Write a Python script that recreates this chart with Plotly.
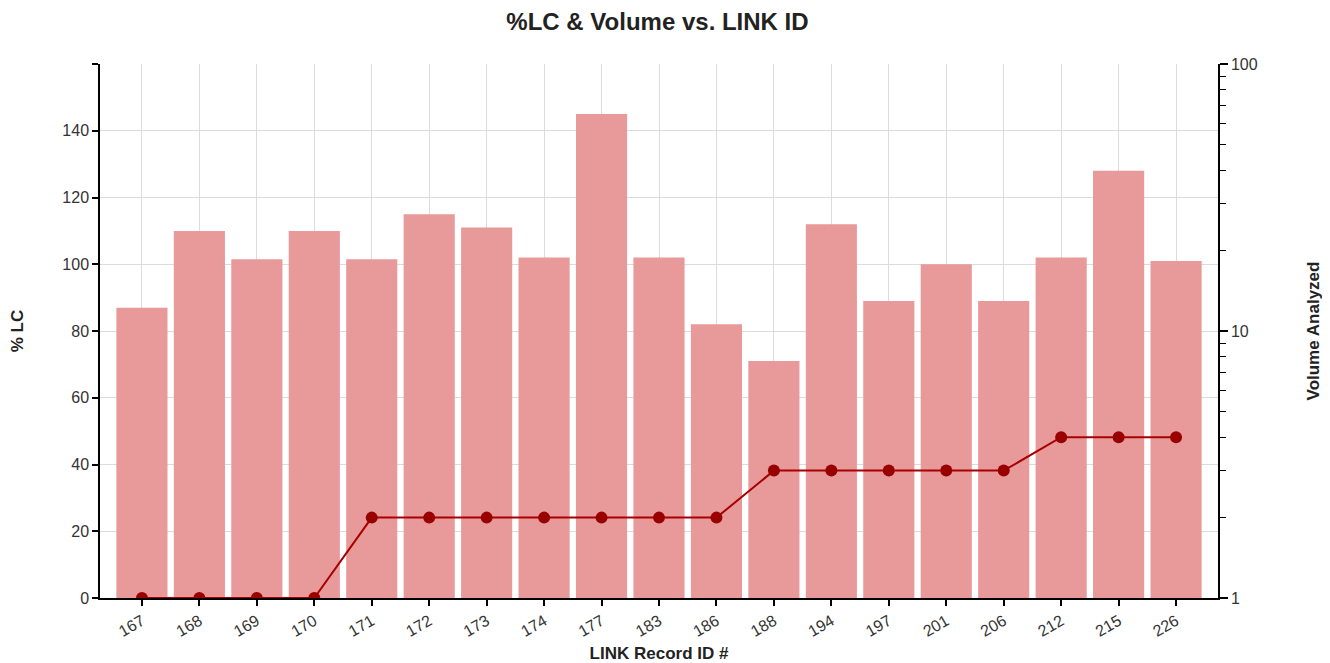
import plotly.graph_objects as go

categories = ["167", "168", "169", "170", "171", "172", "173", "174", "177", "183",
              "186", "188", "194", "197", "201", "206", "212", "215", "226"]
pct_lc = [87, 110, 101.5, 110, 101.5, 115, 111, 102, 145, 102,
          82, 71, 112, 89, 100, 89, 102, 128, 101]
volume = [1, 1, 1, 1, 2, 2, 2, 2, 2, 2, 2, 3, 3, 3, 3, 3, 4, 4, 4]

left_ticks = [0, 20, 40, 60, 80, 100, 120, 140, 160]
left_ticktext = ["0", "20", "40", "60", "80", "100", "120", "140", ""]
right_major = [1, 10, 100]
right_minor = [2, 3, 4, 5, 6, 7, 8, 9, 20, 30, 40, 50, 60, 70, 80, 90]

FONT = "Liberation Sans, Arial, sans-serif"
W, H = 1322, 655

fig = go.Figure()
fig.add_trace(go.Bar(
    x=categories, y=pct_lc, name="%LC",
    marker=dict(color="#E8999A", line=dict(width=0)),
    yaxis="y",
))
fig.add_trace(go.Scatter(
    x=categories, y=volume, name="Volume", mode="lines+markers",
    line=dict(color="#A80000", width=2),
    marker=dict(color="#990000", size=12),
    yaxis="y2",
))

fig.update_layout(
    width=W, height=H,
    margin=dict(l=92, r=112, t=56, b=65, autoexpand=False),
    paper_bgcolor="white", plot_bgcolor="white",
    showlegend=False,
    bargap=0.11,
    font=dict(family=FONT, color="#333", size=16),
    title=dict(text="<b>%LC & Volume vs. LINK ID</b>", x=649.5 / W, xref="container",
               xanchor="center", y=1 - 14 / H, yref="container", yanchor="middle",
               font=dict(size=24, color="#222", family=FONT)),
    xaxis=dict(
        type="category", range=[-0.73, 18.73], automargin=False,
        showline=True, linecolor="black", linewidth=1.5,
        ticks="outside", ticklen=6, tickcolor="black", tickwidth=1.5,
        showgrid=True, gridcolor="#dcdcdc", gridwidth=1,
        tickangle=-30, tickfont=dict(size=16, color="#333"),
        title=dict(text="<b>LINK Record ID #</b>", font=dict(size=17, color="#222"), standoff=12),
        zeroline=False,
    ),
    yaxis=dict(
        range=[0, 160], tickmode="array", tickvals=left_ticks, ticktext=left_ticktext,
        automargin=False,
        showline=True, linecolor="black", linewidth=1.5,
        ticks="outside", ticklen=6, tickcolor="black", tickwidth=1.5,
        showgrid=True, gridcolor="#dcdcdc", gridwidth=1,
        zeroline=False, tickfont=dict(size=16, color="#333"),
        title=dict(text="<b>% LC</b>", font=dict(size=17, color="#222"), standoff=38),
    ),
    yaxis2=dict(
        type="log", range=[0, 2], overlaying="y", side="right",
        tickmode="array", tickvals=right_major, ticktext=["1", "10", "100"],
        automargin=False,
        showline=True, linecolor="black", linewidth=1.5,
        ticks="outside", ticklen=8, tickcolor="black", tickwidth=1.5,
        minor=dict(tickmode="array", tickvals=right_minor, ticks="outside",
                   ticklen=6, tickcolor="black", tickwidth=1, showgrid=False),
        showgrid=False, zeroline=False, tickfont=dict(size=16, color="#333"),
        title=dict(text="<b>Volume Analyzed</b>", font=dict(size=17, color="#222"), standoff=50),
    ),
)

fig.write_html("out.html")
